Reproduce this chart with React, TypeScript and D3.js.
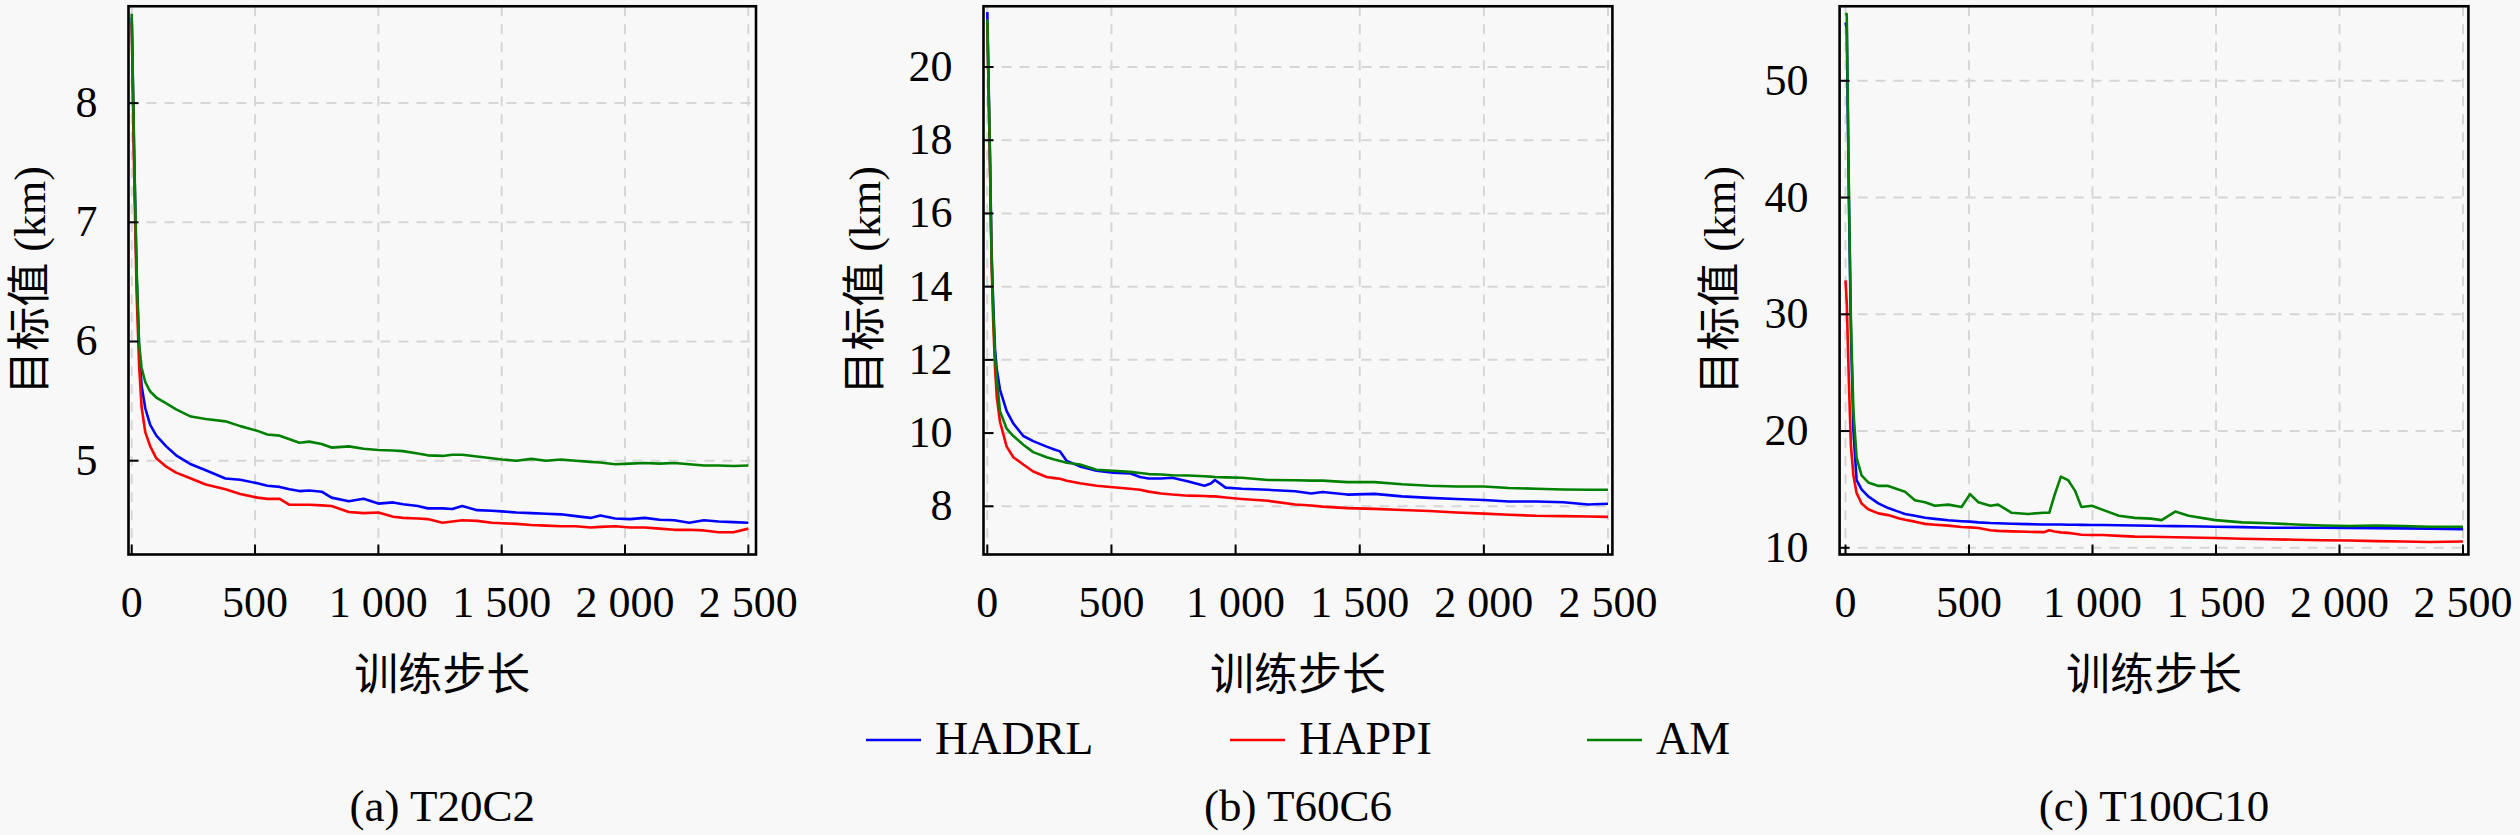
import React, { useEffect, useRef } from 'react';
import * as d3 from 'd3';

// legend / series
const seriesNames = ['HADRL', 'HAPPI', 'AM'];
const seriesColors = ['#0000ff', '#ff0000', '#008000'];

const xTicks = [0, 500, 1000, 1500, 2000, 2500];

// (a) T20C2
const stepsA = [0, 10, 20, 30, 40, 55, 75, 100, 140, 180, 240, 300, 380, 440, 510, 550, 600, 640, 680, 720, 770, 810, 880, 940, 1000, 1060, 1100, 1160, 1200, 1260, 1300, 1340, 1400, 1460, 1500, 1560, 1620, 1680, 1740, 1800, 1860, 1900, 1960, 2020, 2080, 2140, 2200, 2260, 2320, 2380, 2440, 2500];
const hadrlA = [8.72, 7.55, 6.55, 5.95, 5.63, 5.44, 5.3, 5.21, 5.12, 5.045, 4.97, 4.92, 4.85, 4.84, 4.81, 4.79, 4.78, 4.76, 4.745, 4.75, 4.74, 4.69, 4.66, 4.68, 4.64, 4.65, 4.635, 4.62, 4.6, 4.6, 4.595, 4.62, 4.585, 4.58, 4.575, 4.565, 4.56, 4.555, 4.55, 4.535, 4.52, 4.54, 4.515, 4.51, 4.52, 4.505, 4.5, 4.48, 4.5, 4.49, 4.485, 4.48];
const happiA = [8.68, 7.4, 6.4, 5.8, 5.45, 5.24, 5.12, 5.02, 4.95, 4.9, 4.85, 4.8, 4.76, 4.72, 4.69, 4.68, 4.68, 4.63, 4.63, 4.63, 4.625, 4.62, 4.57, 4.56, 4.565, 4.53, 4.52, 4.515, 4.51, 4.48, 4.49, 4.5, 4.495, 4.48, 4.475, 4.47, 4.46, 4.455, 4.45, 4.45, 4.44, 4.445, 4.45, 4.44, 4.44, 4.43, 4.42, 4.42, 4.415, 4.4, 4.4, 4.43];
const amA = [8.75, 7.6, 6.6, 5.98, 5.78, 5.66, 5.58, 5.53, 5.48, 5.43, 5.37, 5.35, 5.33, 5.29, 5.25, 5.22, 5.21, 5.18, 5.15, 5.16, 5.14, 5.11, 5.12, 5.1, 5.09, 5.085, 5.08, 5.06, 5.045, 5.04, 5.05, 5.05, 5.035, 5.02, 5.01, 5.0, 5.015, 5.0, 5.01, 5.0, 4.99, 4.985, 4.97, 4.975, 4.98, 4.975, 4.98, 4.97, 4.96, 4.96, 4.955, 4.96];
const yTicksA = [5, 6, 7, 8];

// (b) T60C6
const stepsB = [0, 10, 17, 24, 31, 38, 51, 78, 105, 145, 185, 239, 270, 293, 320, 373, 440, 507, 575, 615, 650, 700, 745, 810, 875, 900, 917, 960, 1025, 1130, 1240, 1305, 1350, 1450, 1560, 1670, 1780, 1890, 2000, 2100, 2210, 2320, 2420, 2500];
const hadrlB = [21.5, 17.9, 15.0, 13.5, 12.3, 11.75, 11.19, 10.6, 10.26, 9.92, 9.78, 9.63, 9.55, 9.5, 9.24, 9.09, 8.97, 8.92, 8.9, 8.8, 8.76, 8.76, 8.78, 8.68, 8.56, 8.62, 8.72, 8.51, 8.48, 8.45, 8.41, 8.35, 8.39, 8.32, 8.34, 8.27, 8.23, 8.2, 8.17, 8.13, 8.13, 8.11, 8.05, 8.07];
const happiB = [21.2, 17.6, 14.7, 13.0, 11.8, 11.0, 10.31, 9.63, 9.34, 9.14, 8.95, 8.8, 8.77, 8.75, 8.7, 8.63, 8.56, 8.52, 8.48, 8.45, 8.4, 8.35, 8.32, 8.29, 8.28, 8.27, 8.27, 8.24, 8.2, 8.15, 8.05, 8.02, 7.99, 7.95, 7.93, 7.9, 7.87, 7.83, 7.8, 7.77, 7.74, 7.73, 7.72, 7.71];
const amB = [21.3, 17.8, 14.9, 13.3, 12.1, 11.5, 10.6, 10.12, 9.92, 9.68, 9.48, 9.34, 9.28, 9.24, 9.19, 9.14, 9.0, 8.97, 8.94, 8.91, 8.88, 8.87, 8.85, 8.84, 8.82, 8.81, 8.8, 8.79, 8.78, 8.72, 8.71, 8.7, 8.7, 8.66, 8.66, 8.6, 8.56, 8.54, 8.54, 8.5, 8.48, 8.46, 8.45, 8.45];
const yTicksB = [8, 10, 12, 14, 16, 18, 20];

// (c) T100C10
const stepsC = [0, 5, 14, 22, 32, 45, 65, 92, 133, 173, 214, 241, 281, 322, 362, 416, 470, 504, 538, 586, 618, 673, 738, 803, 825, 846, 872, 901, 929, 955, 998, 1042, 1107, 1172, 1237, 1280, 1335, 1389, 1497, 1606, 1714, 1823, 1931, 2040, 2148, 2257, 2365, 2500];
const hadrlC = [55.0, 54.5, 39.5, 28.5, 20.0, 15.8, 15.0, 14.4, 13.8, 13.4, 13.1, 12.9, 12.75, 12.57, 12.48, 12.36, 12.28, 12.24, 12.18, 12.12, 12.1, 12.06, 12.03, 12.0, 12.0, 12.0, 11.99, 11.98, 11.97, 11.96, 11.95, 11.95, 11.93, 11.91, 11.89, 11.87, 11.86, 11.84, 11.8, 11.77, 11.72, 11.72, 11.72, 11.7, 11.68, 11.66, 11.64, 11.6];
const happiC = [32.9, 31.0, 24.0, 18.7, 16.2, 14.7, 13.8, 13.3, 12.95, 12.8, 12.54, 12.4, 12.24, 12.05, 11.98, 11.9, 11.78, 11.75, 11.7, 11.5, 11.45, 11.41, 11.37, 11.34, 11.5, 11.4, 11.32, 11.28, 11.2, 11.12, 11.1, 11.1, 11.02, 10.96, 10.94, 10.92, 10.9, 10.88, 10.84, 10.78, 10.73, 10.69, 10.65, 10.62, 10.57, 10.54, 10.5, 10.54];
const amC = [55.8, 55.7, 40.1, 29.4, 21.7, 17.7, 16.2, 15.6, 15.3, 15.3, 15.0, 14.8, 14.07, 13.9, 13.6, 13.7, 13.5, 14.6, 13.9, 13.6, 13.7, 13.0, 12.9, 13.0, 13.0, 14.5, 16.1, 15.8, 14.9, 13.5, 13.6, 13.25, 12.75, 12.56, 12.5, 12.37, 13.1, 12.75, 12.37, 12.18, 12.1, 12.0, 11.91, 11.87, 11.91, 11.87, 11.8, 11.8];
const yTicksC = [10, 20, 30, 40, 50];

const W = 2520;
const H = 835;
const TOP = 6.25;
const BOTTOM = 554.5;
// serif for latin, CJK falls back to Noto
const SERIF = "Liberation Serif, Tinos, Times New Roman, DejaVu Serif, Noto Sans CJK SC, serif";

const panels = [
  { id: 'a', caption: '(a) T20C2', steps: stepsA, series: [hadrlA, happiA, amA], yTicks: yTicksA,
    xDomain: [-13, 2531], yDomain: [4.213, 8.8125], left: 128.5, right: 756, ylabelX: 28 },
  { id: 'b', caption: '(b) T60C6', steps: stepsB, series: [hadrlB, happiB, amB], yTicks: yTicksB,
    xDomain: [-15.3, 2517.7], yDomain: [6.683, 21.66], left: 983.5, right: 1612.4, ylabelX: 863 },
  { id: 'c', caption: '(c) T100C10', steps: stepsC, series: [hadrlC, happiC, amC], yTicks: yTicksC,
    xDomain: [-23.9, 2521.9], yDomain: [9.426, 56.385], left: 1839.6, right: 2468.4, ylabelX: 1717.5 },
];

const fmtStep = (v: number) =>
  v >= 1000 ? `${Math.floor(v / 1000)} ${d3.format('03d')(v % 1000)}` : `${v}`;

const App: React.FC = () => {
  const svgRef = useRef<SVGSVGElement>(null);

  useEffect(() => {
    if (!svgRef.current) return;
    const svg = d3.select(svgRef.current);
    svg.selectAll('*').remove();

    svg.append('rect').attr('width', W).attr('height', H).attr('fill', '#f8f8f8');

    panels.forEach((p) => {
      const x = d3.scaleLinear().domain(p.xDomain).range([p.left, p.right]);
      const y = d3.scaleLinear().domain(p.yDomain).range([BOTTOM, TOP]);
      const g = svg.append('g');

      // grid
      g.selectAll('line.gx')
        .data(xTicks)
        .enter()
        .append('line')
        .attr('x1', (d) => x(d)).attr('x2', (d) => x(d))
        .attr('y1', TOP).attr('y2', BOTTOM)
        .attr('stroke', '#d6d6d6').attr('stroke-width', 2).attr('stroke-dasharray', '10 8');
      g.selectAll('line.gy')
        .data(p.yTicks)
        .enter()
        .append('line')
        .attr('x1', p.left).attr('x2', p.right)
        .attr('y1', (d) => y(d)).attr('y2', (d) => y(d))
        .attr('stroke', '#d6d6d6').attr('stroke-width', 2).attr('stroke-dasharray', '10 8');

      // clip + lines
      const clipId = `clip-${p.id}`;
      svg.append('clipPath').attr('id', clipId)
        .append('rect')
        .attr('x', p.left).attr('y', TOP)
        .attr('width', p.right - p.left).attr('height', BOTTOM - TOP);

      const line = d3.line<number>()
        .x((_, i) => x(p.steps[i]))
        .y((d) => y(d));

      p.series.forEach((vals, k) => {
        g.append('path')
          .attr('d', line(vals)!)
          .attr('fill', 'none')
          .attr('stroke', seriesColors[k])
          .attr('stroke-width', 2.6)
          .attr('stroke-linejoin', 'round')
          .attr('clip-path', `url(#${clipId})`);
      });

      // ticks (inward, left + bottom)
      g.selectAll('line.tx')
        .data(xTicks)
        .enter()
        .append('line')
        .attr('x1', (d) => x(d)).attr('x2', (d) => x(d))
        .attr('y1', BOTTOM).attr('y2', BOTTOM - 10)
        .attr('stroke', '#000').attr('stroke-width', 2);
      g.selectAll('line.ty')
        .data(p.yTicks)
        .enter()
        .append('line')
        .attr('x1', p.left).attr('x2', p.left + 10)
        .attr('y1', (d) => y(d)).attr('y2', (d) => y(d))
        .attr('stroke', '#000').attr('stroke-width', 2);

      // frame
      g.append('rect')
        .attr('x', p.left).attr('y', TOP)
        .attr('width', p.right - p.left).attr('height', BOTTOM - TOP)
        .attr('fill', 'none').attr('stroke', '#000').attr('stroke-width', 2.6);

      // tick labels
      g.selectAll('text.xl')
        .data(xTicks)
        .enter()
        .append('text')
        .attr('x', (d) => x(d)).attr('y', 617)
        .attr('text-anchor', 'middle')
        .style('font-family', SERIF).attr('font-size', 44)
        .text((d) => fmtStep(d));
      g.selectAll('text.yl')
        .data(p.yTicks)
        .enter()
        .append('text')
        .attr('x', p.left - 31).attr('y', (d) => y(d) + 14)
        .attr('text-anchor', 'end')
        .style('font-family', SERIF).attr('font-size', 44)
        .text((d) => `${d}`);

      // axis labels
      const cx = (p.left + p.right) / 2;
      g.append('text')
        .attr('x', cx).attr('y', 690)
        .attr('text-anchor', 'middle')
        .style('font-family', SERIF).attr('font-size', 44)
        .text('训练步长');
      g.append('text')
        .attr('transform', `translate(${p.ylabelX + 17},${(TOP + BOTTOM) / 2}) rotate(-90)`)
        .attr('text-anchor', 'middle')
        .style('font-family', SERIF).attr('font-size', 44)
        .text('目标值 (km)');

      // caption
      g.append('text')
        .attr('x', cx).attr('y', 821)
        .attr('text-anchor', 'middle')
        .style('font-family', SERIF).attr('font-size', 45)
        .text(p.caption);
    });

    // legend
    const legendX = [866, 1230, 1587];
    const leg = svg.append('g');
    seriesNames.forEach((name, k) => {
      leg.append('line')
        .attr('x1', legendX[k]).attr('x2', legendX[k] + 55)
        .attr('y1', 740).attr('y2', 740)
        .attr('stroke', seriesColors[k]).attr('stroke-width', 2.6);
      leg.append('text')
        .attr('x', legendX[k] + 69).attr('y', 754)
        .style('font-family', SERIF).attr('font-size', 46)
        .text(name);
    });
  }, []);

  return (
    <svg
      ref={svgRef}
      width={W}
      height={H}
      style={{ position: 'absolute', left: 0, top: 0, display: 'block' }}
    />
  );
};

export default App;
